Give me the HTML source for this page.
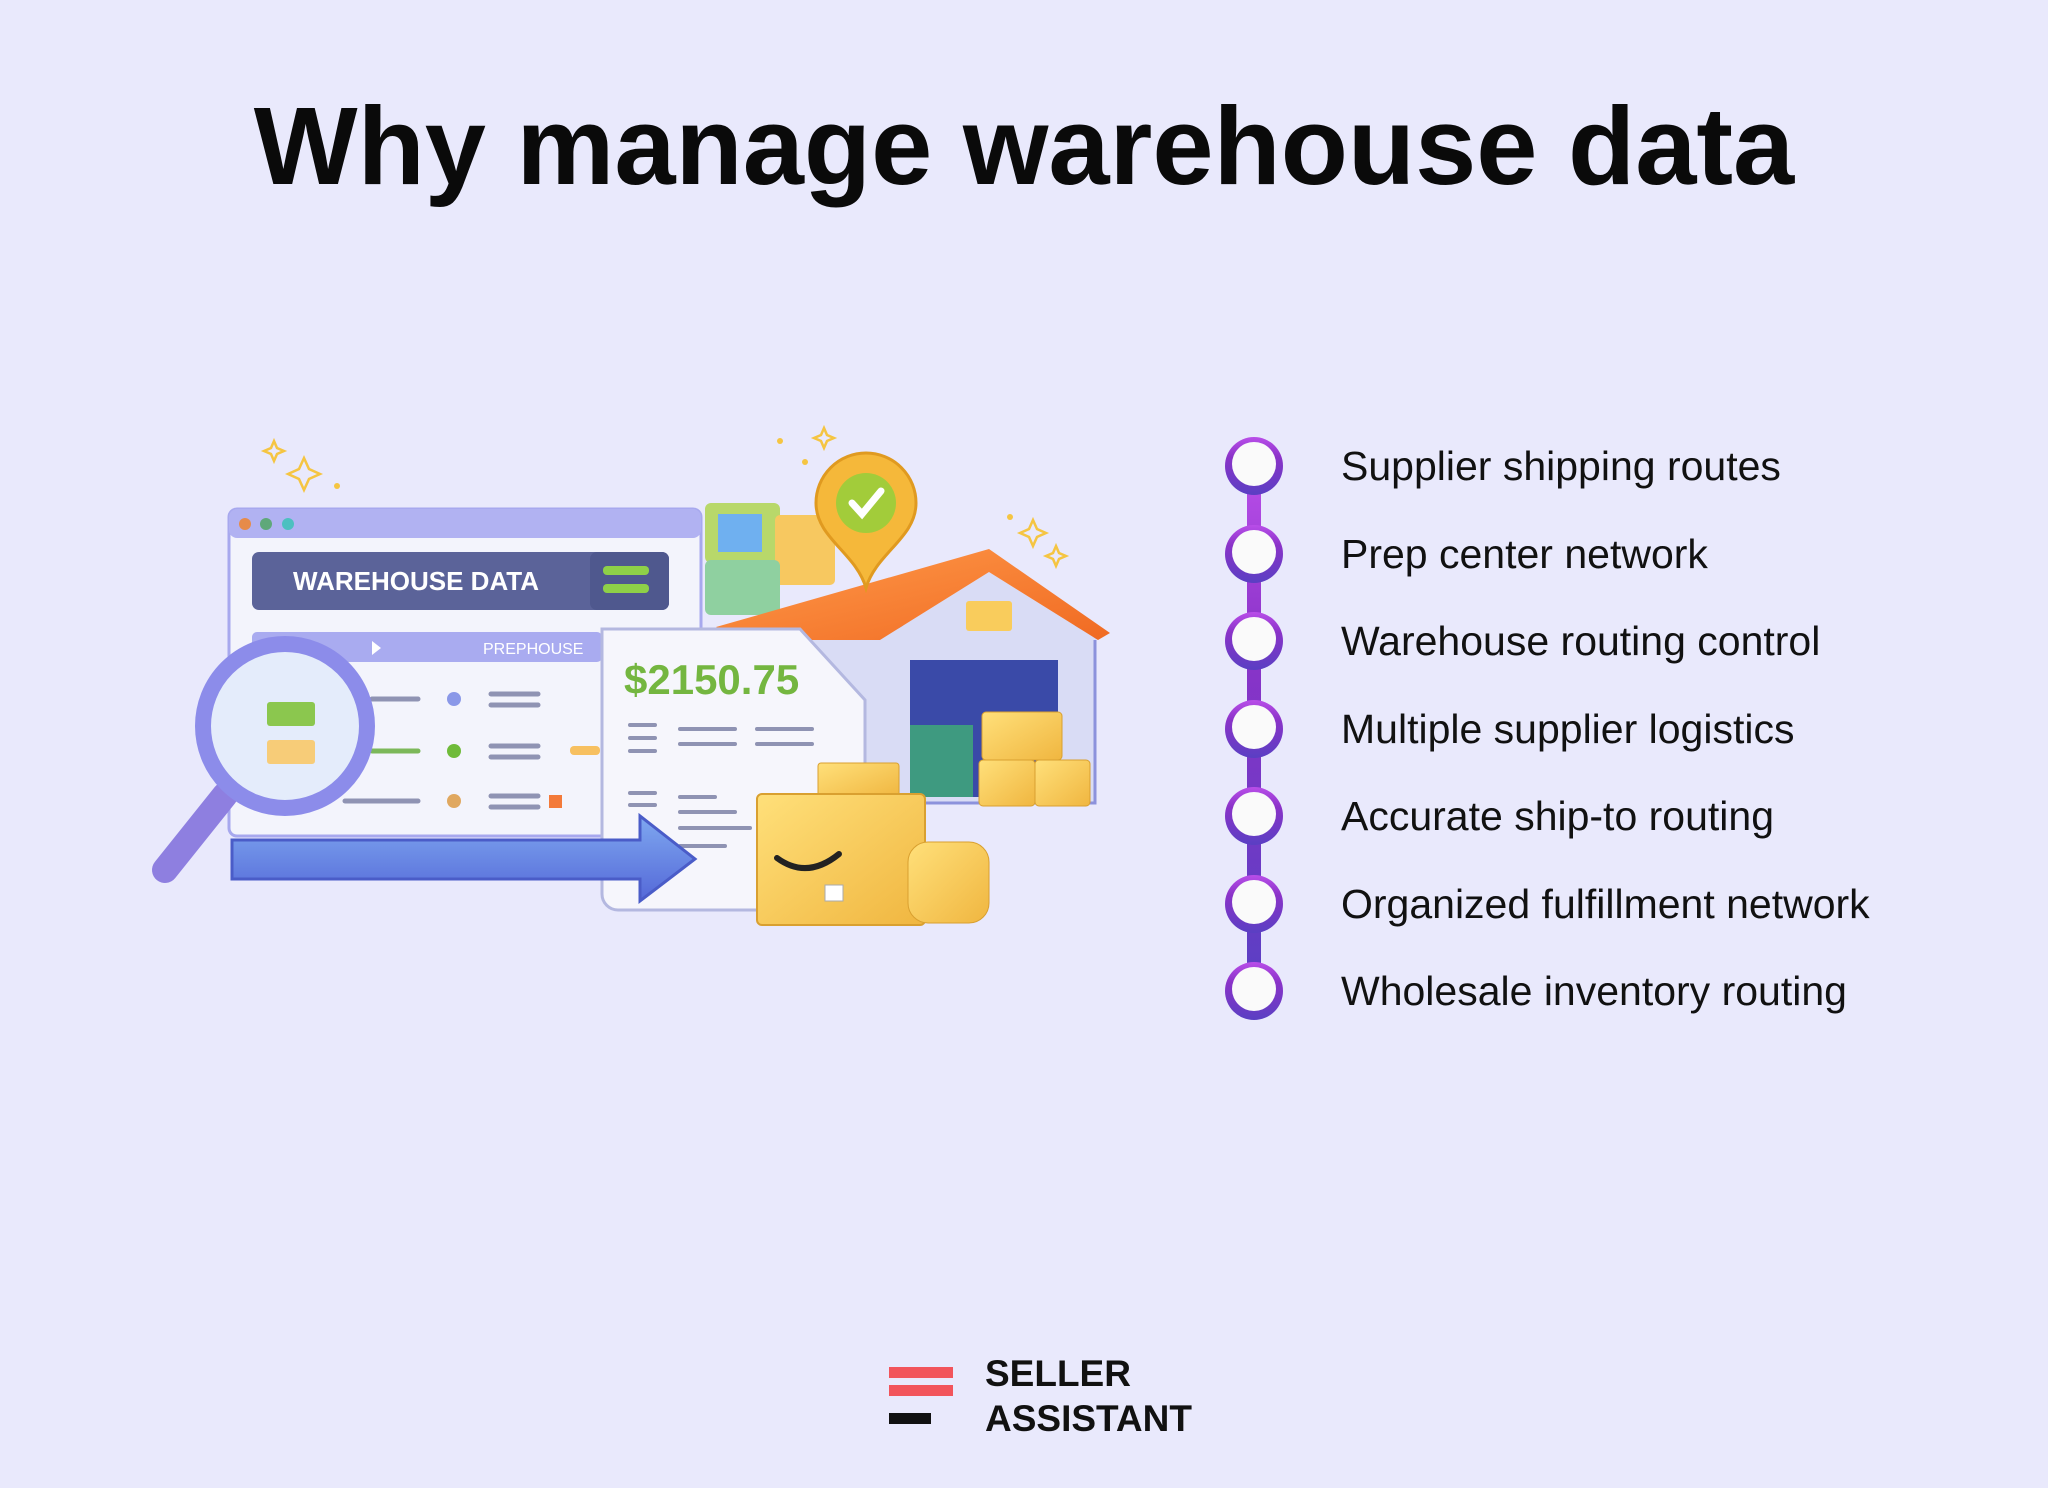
<!DOCTYPE html>
<html><head><meta charset="utf-8"><style>
html,body{margin:0;padding:0;}
body{width:2048px;height:1488px;background:#e9e9fc;position:relative;overflow:hidden;font-family:"Liberation Sans",sans-serif;}
h1{position:absolute;left:0;width:2048px;top:72px;margin:0;text-align:center;font-size:110px;font-weight:bold;color:#0a0a0a;line-height:150px;}
.item{position:absolute;left:1341px;font-size:41px;color:#111;line-height:50px;}
.logo{position:absolute;left:985px;font-weight:bold;font-size:37px;color:#111;line-height:44px;}
</style></head><body>
<h1>Why manage warehouse data</h1>
<svg width="2048" height="1488" style="position:absolute;left:0;top:0">
<defs>
<linearGradient id="chain" x1="0" y1="0" x2="0" y2="1"><stop offset="0" stop-color="#b94ee9"/><stop offset="0.35" stop-color="#8a33c8"/><stop offset="1" stop-color="#5a3fc3"/></linearGradient>
<linearGradient id="arr" x1="0" y1="0" x2="0" y2="1"><stop offset="0" stop-color="#7fa8f0"/><stop offset="1" stop-color="#5468d8"/></linearGradient>
<linearGradient id="roof" x1="0" y1="0" x2="1" y2="1"><stop offset="0" stop-color="#ff9a4a"/><stop offset="1" stop-color="#f06a22"/></linearGradient>
<linearGradient id="box" x1="0" y1="0" x2="1" y2="1"><stop offset="0" stop-color="#ffe07a"/><stop offset="1" stop-color="#f0b640"/></linearGradient>
</defs>
<rect x="1247" y="466" width="14" height="525" fill="url(#chain)"/>
<g fill="url(#chain)">
<circle cx="1254" cy="466" r="29"/><circle cx="1254" cy="554" r="29"/><circle cx="1254" cy="641" r="29"/><circle cx="1254" cy="729" r="29"/><circle cx="1254" cy="816" r="29"/><circle cx="1254" cy="904" r="29"/><circle cx="1254" cy="991" r="29"/>
</g>
<g fill="#fafafa">
<circle cx="1254" cy="464" r="22"/><circle cx="1254" cy="552" r="22"/><circle cx="1254" cy="639" r="22"/><circle cx="1254" cy="727" r="22"/><circle cx="1254" cy="814" r="22"/><circle cx="1254" cy="902" r="22"/><circle cx="1254" cy="989" r="22"/>
</g>
<rect x="889" y="1367" width="64" height="11" fill="#f2545b"/>
<rect x="889" y="1385" width="64" height="11" fill="#f2545b"/>
<rect x="889" y="1413" width="42" height="11" fill="#111"/>

<g fill="none" stroke="#f5c542" stroke-width="2.5">
<path d="M274 441 l3 7 7 3 -7 3 -3 7 -3 -7 -7 -3 7 -3z"/><path d="M304 458 l5 11 11 5 -11 5 -5 11 -5 -11 -11 -5 11 -5z"/><path d="M824 428 l3 7 7 3 -7 3 -3 7 -3 -7 -7 -3 7 -3z"/><path d="M1033 520 l4 9 9 4 -9 4 -4 9 -4 -9 -9 -4 9 -4z"/><path d="M1056 546 l3 7 7 3 -7 3 -3 7 -3 -7 -7 -3 7 -3z"/>
</g>
<g fill="#f5c542"><circle cx="337" cy="486" r="3"/><circle cx="780" cy="441" r="3"/><circle cx="805" cy="462" r="3"/><circle cx="1010" cy="517" r="3"/></g>
<rect x="705" y="503" width="75" height="60" rx="6" fill="#b8d86a"/><rect x="718" y="514" width="44" height="38" fill="#6fb0f0"/>
<rect x="775" y="515" width="60" height="70" rx="5" fill="#f7c860"/>
<rect x="705" y="560" width="75" height="55" rx="6" fill="#8fd0a0"/>
<rect x="229" y="509" width="472" height="327" rx="8" fill="#f3f4fc" stroke="#a7a8ee" stroke-width="3"/>
<rect x="229" y="509" width="472" height="29" rx="8" fill="#b1b2f2"/>
<circle cx="245" cy="524" r="6" fill="#e68b4a"/><circle cx="266" cy="524" r="6" fill="#5fa87a"/><circle cx="288" cy="524" r="6" fill="#4cc0c0"/>
<rect x="252" y="552" width="417" height="58" rx="7" fill="#5b6399"/>
<rect x="590" y="552" width="79" height="58" rx="7" fill="#4f588e"/>
<rect x="603" y="566" width="46" height="9" rx="4" fill="#8ed048"/><rect x="603" y="584" width="46" height="9" rx="4" fill="#8ed048"/>
<text x="293" y="590" font-family="Liberation Sans,sans-serif" font-weight="bold" font-size="26" fill="#fff">WAREHOUSE DATA</text>
<rect x="252" y="632" width="350" height="30" rx="5" fill="#a9abf0"/>
<path d="M372 641 l9 7 -9 7z" fill="#fff"/>
<text x="483" y="654" font-family="Liberation Sans,sans-serif" font-size="16" fill="#fff">PREPHOUSE</text>
<g stroke="#8f93b3" stroke-width="5" stroke-linecap="round">
<line x1="372" y1="699" x2="418" y2="699"/><line x1="491" y1="694" x2="538" y2="694"/><line x1="491" y1="705" x2="538" y2="705"/>
<line x1="372" y1="751" x2="418" y2="751" stroke="#7cb85a"/><line x1="491" y1="746" x2="538" y2="746"/><line x1="491" y1="757" x2="538" y2="757"/>
<line x1="345" y1="801" x2="418" y2="801"/><line x1="491" y1="796" x2="538" y2="796"/><line x1="491" y1="807" x2="538" y2="807"/>
</g>
<circle cx="454" cy="699" r="7" fill="#8a98e8"/><circle cx="454" cy="751" r="7" fill="#6fbb3a"/><circle cx="454" cy="801" r="7" fill="#e0a860"/>
<rect x="549" y="795" width="13" height="13" fill="#f37a3a"/><rect x="570" y="746" width="30" height="9" rx="4" fill="#f7c060"/>
<!-- house -->
<rect x="790" y="627" width="305" height="176" fill="#d9dcf5" stroke="#8c92dc" stroke-width="3"/>
<path d="M880 640 L989 572 L1098 640z" fill="#d9dcf5"/>
<rect x="910" y="660" width="148" height="137" fill="#3a4aa8"/>
<rect x="910" y="725" width="63" height="72" fill="#3e9a80"/>
<rect x="966" y="601" width="46" height="30" rx="3" fill="#f9cc5c"/>
<path d="M716 627 L989 549 L1110 633 L1098 640 L989 572 L880 640 L740 640z" fill="url(#roof)"/>
<path d="M866 453 a50 50 0 0 1 50 50 c0 35 -40 50 -50 85 c-10 -35 -50 -50 -50 -85 a50 50 0 0 1 50 -50z" fill="#f5b83a" stroke="#e09a20" stroke-width="3"/>
<circle cx="866" cy="503" r="30" fill="#a2cc3a"/>
<path d="M852 503 l10 11 19 -23" stroke="#fff" stroke-width="7" fill="none" stroke-linecap="round"/>
<rect x="982" y="712" width="80" height="48" rx="4" fill="url(#box)" stroke="#d9a030"/>
<rect x="979" y="760" width="56" height="46" rx="4" fill="url(#box)" stroke="#d9a030"/>
<rect x="1035" y="760" width="55" height="46" rx="4" fill="url(#box)" stroke="#d9a030"/>
<!-- document -->
<path d="M602 629 H800 L865 700 V910 H618 a16 16 0 0 1 -16 -16z" fill="#f6f6fc" stroke="#b4b8e0" stroke-width="3"/>
<text x="624" y="694" font-family="Liberation Sans,sans-serif" font-weight="bold" font-size="42" fill="#74b640">$2150.75</text>
<g stroke="#8f93b3" stroke-width="4" stroke-linecap="round">
<line x1="630" y1="725" x2="655" y2="725"/><line x1="630" y1="738" x2="655" y2="738"/><line x1="630" y1="751" x2="655" y2="751"/><line x1="680" y1="729" x2="735" y2="729"/><line x1="680" y1="744" x2="735" y2="744"/><line x1="757" y1="729" x2="812" y2="729"/><line x1="757" y1="744" x2="812" y2="744"/>
<line x1="630" y1="793" x2="655" y2="793"/><line x1="630" y1="805" x2="655" y2="805"/><line x1="680" y1="797" x2="715" y2="797"/><line x1="680" y1="812" x2="735" y2="812"/><line x1="680" y1="828" x2="750" y2="828"/><line x1="680" y1="846" x2="725" y2="846"/>
</g>
<!-- arrow on top -->
<path d="M232 840 H640 V816 L695 859 L640 901 V879 H232z" fill="url(#arr)" stroke="#4a5cc8" stroke-width="3"/>
<!-- magnifier -->
<line x1="225" y1="795" x2="165" y2="870" stroke="#8e7fe0" stroke-width="26" stroke-linecap="round"/>
<circle cx="285" cy="726" r="82" fill="#e4ecfb" stroke="#8c8cea" stroke-width="16"/>
<rect x="267" y="702" width="48" height="24" rx="3" fill="#8bc74e"/><rect x="267" y="740" width="48" height="24" rx="3" fill="#f7cc78"/>
<!-- big box -->
<rect x="818" y="763" width="81" height="34" rx="3" fill="url(#box)" stroke="#d9a030"/>
<rect x="757" y="794" width="168" height="131" rx="5" fill="url(#box)" stroke="#d9a030" stroke-width="2"/>
<path d="M777 858 q30 22 62 -4" stroke="#222" stroke-width="6" fill="none" stroke-linecap="round"/>
<rect x="825" y="885" width="18" height="16" fill="#fff" stroke="#aaa"/>
<rect x="908" y="842" width="81" height="81" rx="20" fill="url(#box)" stroke="#d9a030"/>
</svg>
<div class="item" style="top:441px">Supplier shipping routes</div>
<div class="item" style="top:529px">Prep center network</div>
<div class="item" style="top:616px">Warehouse routing control</div>
<div class="item" style="top:704px">Multiple supplier logistics</div>
<div class="item" style="top:791px">Accurate ship-to routing</div>
<div class="item" style="top:879px">Organized fulfillment network</div>
<div class="item" style="top:966px">Wholesale inventory routing</div>
<div class="logo" style="top:1352px">SELLER</div>
<div class="logo" style="top:1397px">ASSISTANT</div>
</body></html>
